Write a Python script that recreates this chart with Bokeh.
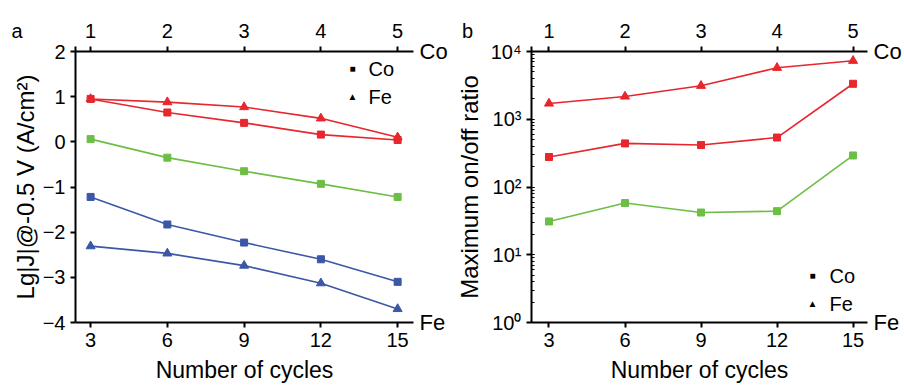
from bokeh.plotting import figure
from bokeh.layouts import row
from bokeh.models import (Range1d, LinearAxis, FixedTicker, Label, AllLabels,
                          CustomJSTickFormatter, LogTicker)
from bokeh.embed import file_html
from bokeh.resources import INLINE

# ---------------- data ----------------
co_cycles = [1, 2, 3, 4, 5]
fe_cycles = [3, 6, 9, 12, 15]

# panel a : Lg|J| @ -0.5 V
a_red_co = [0.95, 0.65, 0.42, 0.16, 0.04]
a_red_fe = [0.95, 0.88, 0.77, 0.52, 0.10]
a_green_co = [0.06, -0.35, -0.65, -0.93, -1.22]
a_blue_co = [-1.22, -1.83, -2.23, -2.60, -3.10]
a_blue_fe = [-2.31, -2.47, -2.74, -3.13, -3.70]

# panel b : maximum on/off ratio
b_red_fe = [1710, 2170, 3120, 5750, 7300]
b_red_co = [277, 440, 416, 537, 3340]
b_green_co = [31, 58, 42, 44, 292]

a_yticks = [-4, -3, -2, -1, 0, 1, 2]
legend_labels = ["Co", "Fe"]
legend_symbols = ["\u25a0", "\u25b2"]

RED = "#E8262D"
GREEN = "#6DBE45"
BLUE = "#3B57A6"
FONT = "Liberation Sans"
FH = 271  # frame height in px


def style_axis(ax):
    ax.axis_line_width = 2
    ax.axis_line_color = "black"
    ax.major_tick_line_width = 2
    ax.major_tick_line_color = "black"
    ax.major_tick_in = 0
    ax.major_tick_out = 5
    ax.minor_tick_line_color = None
    ax.major_label_text_font = FONT
    ax.major_label_text_font_size = "20px"
    ax.major_label_text_color = "black"
    ax.major_label_standoff = 5
    ax.major_label_policy = AllLabels()
    ax.axis_label_text_font = FONT
    ax.axis_label_text_font_size = "24px"
    ax.axis_label_text_font_style = "normal"
    ax.axis_label_text_color = "black"


def slabel(p, x, y, text, size="22px", align="left", baseline="middle"):
    p.add_layout(Label(x=x, y=y, x_units="screen", y_units="screen", text=text,
                       text_align=align, text_baseline=baseline, text_font=FONT,
                       text_font_size=size, text_color="black"))


def make_panel(xr, yr, ylog, left_border, right_border, letter, pad):
    kw = dict(width=452, height=386, x_range=Range1d(*xr), y_range=Range1d(*yr),
              output_backend="svg", toolbar_location=None,
              min_border_left=left_border, min_border_right=right_border,
              min_border_top=51, min_border_bottom=64)
    if ylog:
        kw["y_axis_type"] = "log"
    p = figure(**kw)
    co0 = xr[0] / 3.0
    p.extra_x_ranges = {"co": Range1d(co0, xr[1] / 3.0)}
    p.outline_line_color = None
    p.xgrid.visible = False
    p.ygrid.visible = False
    bottom = p.below[0]
    left = p.left[0]
    # top (Co) axis; the panel letter rides on the first tick at the frame's corner
    top = LinearAxis(x_range_name="co", ticker=FixedTicker(ticks=[co0] + co_cycles),
                     formatter=CustomJSTickFormatter(
                         args=dict(first=co0, letter=letter, pad=pad),
                         code="if (Math.abs(tick - first) < 1e-6) "
                              "{ return letter + '\\u00a0'.repeat(pad); } "
                              "return tick.toFixed(0);"))
    p.add_layout(top, "above")
    for ax in (bottom, left, top):
        style_axis(ax)
    bottom.ticker = FixedTicker(ticks=fe_cycles)
    bottom.axis_label = "Number of cycles"
    bottom.axis_label_text_font_size = "23px"
    bottom.axis_label_standoff = 7
    # element names at the right ends of the top (Co) and bottom (Fe) axes
    ends = LinearAxis(ticker=FixedTicker(ticks=[yr[1], yr[0]]),
                      formatter=CustomJSTickFormatter(args=dict(top=yr[1]),
                                                      code="return tick == top ? 'Co' : 'Fe';"))
    ends.axis_line_color = None
    ends.major_tick_line_color = None
    ends.minor_tick_line_color = None
    ends.major_tick_in = 0
    ends.major_tick_out = 0
    ends.major_label_standoff = 6
    ends.major_label_text_font = FONT
    ends.major_label_text_font_size = "22px"
    ends.major_label_text_color = "black"
    p.add_layout(ends, "right")
    return p, bottom, left, top


def series(p, x, y, color, marker, co):
    extra = {"x_range_name": "co"} if co else {}
    p.line(x, y, line_color=color, line_width=1.6, **extra)
    p.scatter(x, y, marker=marker, size=7 if marker == "square" else 9,
              fill_color=color, line_color=color, **extra)


def add_legend(p, sym_x, txt_x, ys):
    for sym, lab, y in zip(legend_symbols, legend_labels, ys):
        slabel(p, sym_x, y, sym, size="10px", align="center")
        slabel(p, txt_x, y, lab, size="20px")


# ---------------- panel a ----------------
pa, ab, al, at = make_panel((2.41, 15.62), (-4, 2), False, 75, 39, "a", 21)
al.ticker = FixedTicker(ticks=a_yticks)
al.axis_label = "Lg|J|@-0.5 V (A/cm\u00b2)"
al.axis_label_standoff = 1
series(pa, co_cycles, a_red_co, RED, "square", True)
series(pa, fe_cycles, a_red_fe, RED, "triangle", False)
series(pa, co_cycles, a_green_co, GREEN, "square", True)
series(pa, co_cycles, a_blue_co, BLUE, "square", True)
series(pa, fe_cycles, a_blue_fe, BLUE, "triangle", False)
add_legend(pa, 277, 293, [FH - 17, FH - 45])

# ---------------- panel b ----------------
pb, bb, bl, bt = make_panel((2.31, 15.57), (1, 10000), True, 77, 36, "b", 23)
bl.ticker = LogTicker(num_minor_ticks=10)
bl.minor_tick_line_color = "black"
bl.minor_tick_line_width = 1
bl.minor_tick_in = 3
bl.minor_tick_out = 0
bl.formatter = CustomJSTickFormatter(code="""
const sup = ['\\u2070','\\u00b9','\\u00b2','\\u00b3','\\u2074','\\u2075'];
const e = Math.round(Math.log10(tick));
return '10' + sup[e];
""")
bl.axis_label = "Maximum on/off ratio"
bl.axis_label_standoff = 5
series(pb, co_cycles, b_red_co, RED, "square", True)
series(pb, fe_cycles, b_red_fe, RED, "triangle", False)
series(pb, co_cycles, b_green_co, GREEN, "square", True)
add_legend(pb, 281, 298, [47, 19])

layout = row(pa, pb, spacing=0)
open("out.html", "w").write(file_html(layout, INLINE))
